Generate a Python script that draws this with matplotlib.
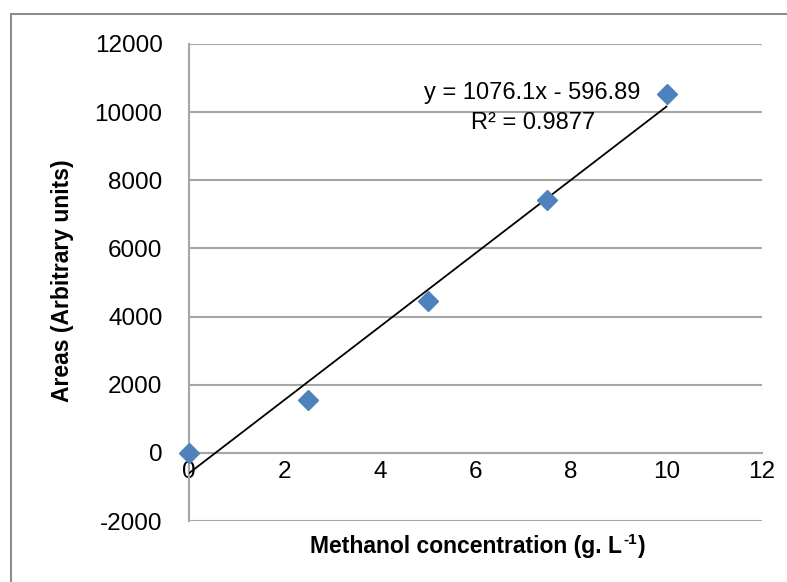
import numpy as np
import matplotlib
matplotlib.use("Agg")
import matplotlib.pyplot as plt
from matplotlib.patches import Rectangle

plt.rcParams['font.family'] = ['Liberation Sans', 'DejaVu Sans']
plt.rcParams['axes.unicode_minus'] = False

# calibration standards
concentration = [0, 2.5, 5, 7.5, 10]
area = [0, 1550, 4450, 7420, 10520]

# linear fit reported on the chart
slope = 1076.1
intercept = -596.89
r_squared = 0.9877

x_ticks = [0, 2, 4, 6, 8, 10, 12]
y_ticks = [-2000, 0, 2000, 4000, 6000, 8000, 10000, 12000]

grid_col = '#a6a6a6'
marker_col = '#4f81bd'

fig = plt.figure(figsize=(7.87, 5.82), dpi=100)
ax = fig.add_axes([189 / 787, 1 - 521 / 582, (762 - 189) / 787, (521 - 44) / 582])

# chart area frame (only top/left edges fall inside the image)
fig.patches.append(Rectangle((11 / 787, -0.1), 1.2, 1 - 14 / 582 + 0.1,
                             transform=fig.transFigure, fill=False,
                             edgecolor='#8c8c8c', linewidth=1.5))

ax.set_xlim(0, 12)
ax.set_ylim(-2000, 12000)
ax.set_xticks(x_ticks)
ax.set_yticks(y_ticks)
ax.yaxis.grid(True, color=grid_col, linewidth=1.5)
ax.set_axisbelow(True)

for side in ['top', 'right']:
    ax.spines[side].set_visible(False)
ax.spines['left'].set_color(grid_col)
ax.spines['left'].set_linewidth(1.5)
ax.spines['bottom'].set_position(('data', 0))
ax.spines['bottom'].set_color(grid_col)
ax.spines['bottom'].set_linewidth(1.5)
ax.tick_params(length=0, labelsize=17.5, colors='black')
ax.tick_params(axis='y', pad=19)
ax.tick_params(axis='x', pad=6)

# trendline over the data range
xs = np.array([concentration[0], concentration[-1]])
ax.plot(xs, slope * xs + intercept, color='black', linewidth=1.3, zorder=3)

ax.plot(concentration, area, linestyle='none', marker='D', markersize=10,
        color=marker_col, markeredgecolor=marker_col, zorder=4, clip_on=False)

ax.text(7.18, 10560, 'y = %.1fx - %.2f' % (slope, abs(intercept)),
        ha='center', va='center', fontsize=17)
ax.text(7.2, 9680, 'R\u00b2 = %.4f' % r_squared,
        ha='center', va='center', fontsize=17)

# x label with a superscript unit, built from three pieces
lab_kw = dict(fontsize=16.5, fontweight='bold')
xl = fig.text(466 / 787, 1 - 547 / 582, 'Methanol concentration (g. L',
              ha='center', va='center', **lab_kw)
sup = ax.annotate('-1', xy=(1, 1), xycoords=xl, xytext=(1, 2),
                  textcoords='offset points', ha='left', va='top',
                  fontsize=11, fontweight='bold')
ax.annotate(')', xy=(1, 0), xycoords=(sup, xl), xytext=(1, 0),
            textcoords='offset points', ha='left', va='bottom', **lab_kw)

fig.text(62 / 787, 1 - 281 / 582, 'Areas (Arbitrary units)',
         ha='center', va='center', rotation=90, **lab_kw)

fig.savefig('out.png', dpi=100)
